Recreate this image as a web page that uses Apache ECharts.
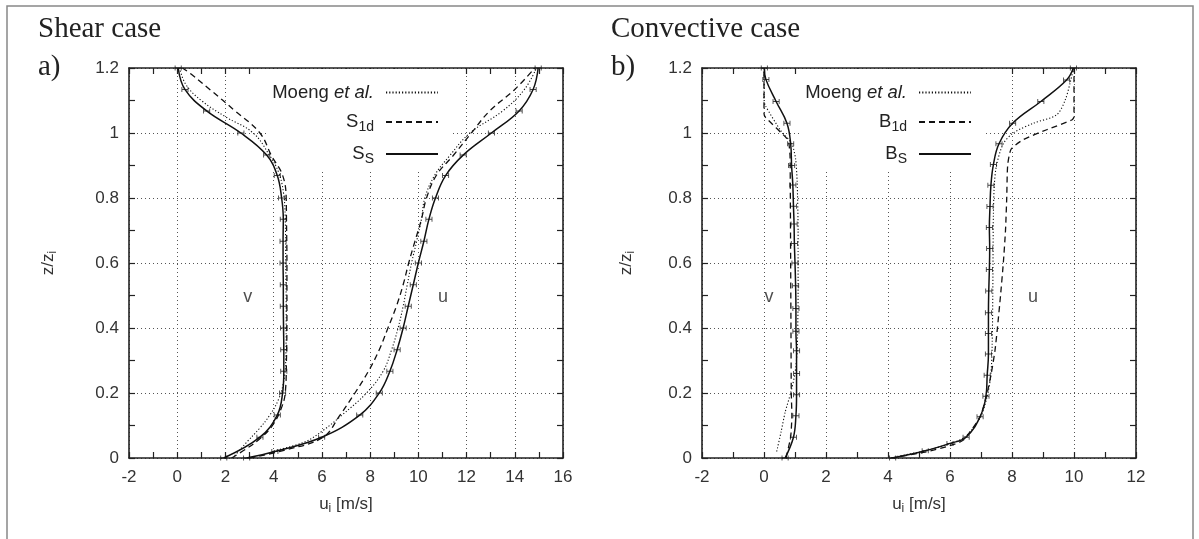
<!DOCTYPE html>
<html>
<head>
<meta charset="utf-8">
<script src="https://cdn.jsdelivr.net/npm/echarts@6/dist/echarts.min.js"></script>
<style>html,body{margin:0;padding:0;background:#fff}#c{width:1199px;height:539px}</style>
</head>
<body>
<div id="c"></div>
<script>
// ---- Data (x = velocity [m/s], z/zi) ----
// Shear case (panel a)
const shearV_Moeng = [[2.3,0.0],[2.9,0.05],[3.4,0.09],[3.84,0.132],[4.2,0.18],[4.4,0.23],[4.5,0.3],[4.52,0.45],[4.5,0.6],[4.48,0.74],[4.4,0.82],[4.2,0.88],[3.84,0.93],[3.15,1.0],[2.0,1.05],[1.0,1.1],[0.35,1.15],[0.1,1.2]];
const shearV_S1d = [[2.25,0],[2.9,0.03],[3.5,0.064],[3.95,0.1],[4.3,0.15],[4.48,0.2],[4.53,0.3],[4.55,0.45],[4.55,0.6],[4.53,0.74],[4.52,0.8],[4.37,0.87],[3.91,0.93],[3.43,1.0],[2.4,1.068],[1.35,1.134],[0.6,1.18],[0.22,1.2]];
const shearV_SS = [[1.93,0],[3.43,0.064],[4.15,0.132],[4.37,0.2],[4.42,0.267],[4.42,0.333],[4.41,0.4],[4.4,0.467],[4.4,0.533],[4.39,0.6],[4.39,0.667],[4.4,0.735],[4.33,0.8],[4.15,0.869],[3.71,0.932],[2.64,1.0],[1.22,1.068],[0.32,1.134],[0.04,1.2]];
const shearU_Moeng = [[4.0,0.022],[5.3,0.05],[6.07,0.086],[6.8,0.13],[7.85,0.2],[8.54,0.267],[8.89,0.333],[9.16,0.4],[9.37,0.467],[9.54,0.533],[9.72,0.6],[9.93,0.667],[10.13,0.735],[10.27,0.8],[10.68,0.87],[11.3,0.93],[12.14,1.0],[13.5,1.068],[14.4,1.134],[14.9,1.2]];
const shearU_S1d = [[3.0,0],[4.5,0.025],[6.05,0.064],[6.75,0.132],[7.37,0.2],[7.93,0.267],[8.38,0.333],[8.74,0.4],[9.09,0.467],[9.37,0.533],[9.6,0.6],[9.86,0.667],[10.13,0.735],[10.34,0.8],[10.75,0.87],[11.44,0.93],[12.2,1.0],[12.96,1.068],[14.0,1.134],[14.83,1.2]];
const shearU_SS = [[2.88,0],[4.05,0.02],[5.99,0.064],[7.57,0.132],[8.38,0.2],[8.82,0.267],[9.12,0.333],[9.37,0.4],[9.58,0.467],[9.79,0.533],[10.0,0.6],[10.23,0.667],[10.44,0.735],[10.71,0.8],[11.13,0.869],[11.86,0.932],[13.03,1.0],[14.18,1.068],[14.76,1.134],[14.97,1.2]];
const shearText = [[2.93,0.495,'v'],[11.02,0.495,'u']];

// Convective case (panel b)
const convV_Moeng = [[0.41,0.02],[0.55,0.08],[0.68,0.14],[0.86,0.2],[1.0,0.26],[1.07,0.33],[1.1,0.5],[1.1,0.7],[1.07,0.85],[1.02,0.92],[0.9,0.967],[0.52,1.01],[0.05,1.083],[0.0,1.1],[0.0,1.2]];
const convV_B1d = [[0.71,0],[0.86,0.064],[0.9,0.13],[0.88,0.2],[0.87,0.4],[0.86,0.6],[0.85,0.8],[0.84,0.93],[0.8,0.97],[0.73,0.984],[0.05,1.048],[0.0,1.06],[0.0,1.2]];
const convV_BS = [[0.68,0],[0.95,0.064],[1.03,0.13],[1.05,0.195],[1.05,0.26],[1.05,0.33],[1.03,0.39],[1.03,0.46],[1.02,0.53],[1.0,0.6],[0.98,0.66],[0.97,0.72],[0.95,0.775],[0.93,0.84],[0.89,0.9],[0.86,0.967],[0.74,1.03],[0.39,1.097],[0.06,1.165],[0.01,1.2]];
const convU_Moeng = [[4.3,0.005],[5.3,0.025],[6.4,0.06],[6.95,0.12],[7.2,0.19],[7.32,0.26],[7.36,0.35],[7.38,0.5],[7.39,0.65],[7.4,0.75],[7.43,0.84],[7.5,0.9],[7.72,0.967],[8.04,1.0],[8.69,1.03],[9.44,1.056],[9.71,1.1],[9.89,1.16],[9.98,1.2]];
const convU_B1d = [[4.1,0],[5.2,0.018],[6.0,0.038],[6.43,0.055],[6.97,0.127],[7.2,0.2],[7.34,0.265],[7.45,0.33],[7.53,0.4],[7.63,0.5],[7.72,0.6],[7.79,0.7],[7.83,0.8],[7.86,0.9],[7.97,0.95],[8.37,0.98],[9.12,1.01],[9.93,1.04],[10.0,1.05],[10.0,1.2]];
const convU_BS = [[4.15,0],[5.2,0.022],[6.0,0.045],[6.52,0.064],[6.97,0.127],[7.16,0.19],[7.2,0.255],[7.24,0.32],[7.24,0.383],[7.24,0.447],[7.25,0.514],[7.27,0.58],[7.28,0.645],[7.27,0.709],[7.29,0.774],[7.32,0.839],[7.4,0.903],[7.58,0.967],[8.02,1.03],[8.93,1.097],[9.76,1.163],[9.98,1.2]];
const convText = [[0.16,0.495,'v'],[8.68,0.495,'u']];

// Axis ranges / ticks
const shearX = {min:-2, max:16, interval:2};
const convX = {min:-2, max:12, interval:2};
const zAxis = {min:0, max:1.2, interval:0.2};

const legendNames = {
  MoengA: '{n|Moeng }{i|et al.}',
  S1d: '{n|S}{s|1d}',
  SS: '{n|S}{s|S}',
  MoengB: '{n|Moeng }{i|et al.}',
  B1d: '{n|B}{s|1d}',
  BS: '{n|B}{s|S}'
};

// ---- Chart ----
const SANS = 'Liberation Sans, Arial, sans-serif';
const SERIF = 'Liberation Serif, Times New Roman, serif';
const INK = '#222';
const richTxt = {
  n: {fontSize:18.5, fontFamily:SANS, color:INK, lineHeight:20},
  i: {fontSize:18.5, fontFamily:SANS, color:INK, fontStyle:'italic', lineHeight:20},
  s: {fontSize:14, fontFamily:SANS, color:INK, padding:[10,0,0,0], lineHeight:20}
};
const gridDash = {color:'#555', width:1, type:[1,3]};
const nameRich = {a:{fontSize:17, fontFamily:SANS, color:'#333'}, b:{fontSize:12, fontFamily:SANS, color:'#333', padding:[9,0,0,0]}};

function xAxes(gridIndex, rng) {
  return [
    {type:'value', gridIndex, position:'bottom', min:rng.min, max:rng.max, interval:rng.interval,
     axisLine:{show:true, onZero:false, lineStyle:{color:'#222', width:1.6}},
     axisTick:{show:true, inside:true, length:6, lineStyle:{color:'#222', width:1.2}},
     minorTick:{show:true, splitNumber:2, length:6, lineStyle:{color:'#222', width:1.2}},
     axisLabel:{show:true, color:'#333', fontSize:17, fontFamily:SANS, margin:11},
     splitLine:{show:true, lineStyle:gridDash},
     name:'{a|u}{b|i}{a| [m/s]}', nameLocation:'middle', nameGap:36,
     nameTextStyle:{rich:nameRich}},
    {type:'value', gridIndex, position:'top', min:rng.min, max:rng.max, interval:rng.interval,
     axisLine:{show:true, onZero:false, lineStyle:{color:'#222', width:1.6}},
     axisTick:{show:true, inside:true, length:6, lineStyle:{color:'#222', width:1.2}},
     minorTick:{show:true, splitNumber:2, length:6, lineStyle:{color:'#222', width:1.2}},
     axisLabel:{show:false}, splitLine:{show:false}}
  ];
}
function yAxes(gridIndex, gap) {
  return [
    {type:'value', gridIndex, position:'left', min:zAxis.min, max:zAxis.max, interval:zAxis.interval,
     axisLine:{show:true, onZero:false, lineStyle:{color:'#222', width:1.6}},
     axisTick:{show:true, inside:true, length:6, lineStyle:{color:'#222', width:1.2}},
     minorTick:{show:true, splitNumber:2, length:6, lineStyle:{color:'#222', width:1.2}},
     axisLabel:{show:true, color:'#333', fontSize:17, fontFamily:SANS, margin:10},
     splitLine:{show:true, lineStyle:gridDash},
     name:'{a|z/z}{b|i}', nameLocation:'middle', nameGap:gap, nameRotate:90,
     nameTextStyle:{rich:nameRich}},
    {type:'value', gridIndex, position:'right', min:zAxis.min, max:zAxis.max, interval:zAxis.interval,
     axisLine:{show:true, onZero:false, lineStyle:{color:'#222', width:1.6}},
     axisTick:{show:true, inside:true, length:6, lineStyle:{color:'#222', width:1.2}},
     minorTick:{show:true, splitNumber:2, length:6, lineStyle:{color:'#222', width:1.2}},
     axisLabel:{show:false}, splitLine:{show:false}}
  ];
}

const lineStyles = {
  dotted: {color:'#111', width:1.1, type:[1.2,2]},
  dashed: {color:'#111', width:1.3, type:[6,4]},
  solid:  {color:'#111', width:1.5, type:'solid'}
};
function curve(name, data, xi, yi, style, smooth) {
  return {type:'line', name, data, xAxisIndex:xi, yAxisIndex:yi, showSymbol:false, symbol:'none',
          smooth, lineStyle:lineStyles[style], itemStyle:{color:'#111'}, z:3, silent:true, animation:false};
}
const errBar = 'path://M0,0H1V2.4H7V0H8V6H7V3.6H1V6H0Z';
function markers(data, xi, yi) {
  return {type:'scatter', name:'_m', data, xAxisIndex:xi, yAxisIndex:yi, symbol:errBar, symbolSize:[7,5],
          itemStyle:{color:'#111'}, z:4, silent:true, animation:false};
}
function texts(data, xi, yi) {
  return {type:'scatter', name:'_t', data, xAxisIndex:xi, yAxisIndex:yi, symbolSize:0,
          label:{show:true, position:'inside', formatter:p=>p.data[2], fontSize:18, fontFamily:SANS, color:INK},
          silent:true, animation:false};
}

const legendBase = {
  orient:'vertical', align:'right', itemWidth:52, itemHeight:14, itemGap:8,
  backgroundColor:'#fff', z:1, selectedMode:false,
  formatter: n => legendNames[n],
  textStyle:{fontSize:18.5, fontFamily:SANS, color:INK, padding:[0,7,0,0], rich:richTxt},
  itemStyle:{opacity:0}
};

const option = {
  animation:false,
  backgroundColor:'#fff',
  grid:[
    {left:129, top:68, width:434, height:390},
    {left:702, top:68, width:434, height:390}
  ],
  xAxis:[...xAxes(0, shearX), ...xAxes(1, convX)],
  yAxis:[...yAxes(0, 70), ...yAxes(1, 65)],
  legend:[
    Object.assign({}, legendBase, {data:['MoengA','S1d','SS'], top:69, right:1199-453, padding:[14,14,4,5]}),
    Object.assign({}, legendBase, {data:['MoengB','B1d','BS'], top:69, right:1199-983, padding:[14,11,4,5]})
  ],
  graphic:[
    {type:'rect', shape:{x:7, y:6, width:1186, height:545}, style:{fill:'none', stroke:'#888', lineWidth:1.5}, silent:true},
    {type:'text', left:38, top:15, style:{text:'Shear case', font:'29px '+SERIF, fill:INK}},
    {type:'text', left:38, top:53, style:{text:'a)', font:'29px '+SERIF, fill:INK}},
    {type:'text', left:611, top:15, style:{text:'Convective case', font:'29px '+SERIF, fill:INK}},
    {type:'text', left:611, top:53, style:{text:'b)', font:'29px '+SERIF, fill:INK}}
  ],
  series:[
    curve('MoengA', shearV_Moeng, 0, 0, 'dotted', 0.4),
    curve('S1d', shearV_S1d, 0, 0, 'dashed', 0.4),
    curve('SS', shearV_SS, 0, 0, 'solid', 0.4),
    curve('MoengA', shearU_Moeng, 0, 0, 'dotted', 0.4),
    curve('S1d', shearU_S1d, 0, 0, 'dashed', 0.4),
    curve('SS', shearU_SS, 0, 0, 'solid', 0.4),
    markers(shearV_SS, 0, 0),
    markers(shearU_SS, 0, 0),
    texts(shearText, 0, 0),
    curve('MoengB', convV_Moeng, 2, 2, 'dotted', 0.2),
    curve('B1d', convV_B1d, 2, 2, 'dashed', 0.15),
    curve('BS', convV_BS, 2, 2, 'solid', 0.4),
    curve('MoengB', convU_Moeng, 2, 2, 'dotted', 0.3),
    curve('B1d', convU_B1d, 2, 2, 'dashed', 0.2),
    curve('BS', convU_BS, 2, 2, 'solid', 0.4),
    markers(convV_BS, 2, 2),
    markers(convU_BS, 2, 2),
    texts(convText, 2, 2)
  ]
};
const chart = echarts.init(document.getElementById('c'), null, {renderer:'canvas'});
chart.setOption(option);
</script>
</body>
</html>
